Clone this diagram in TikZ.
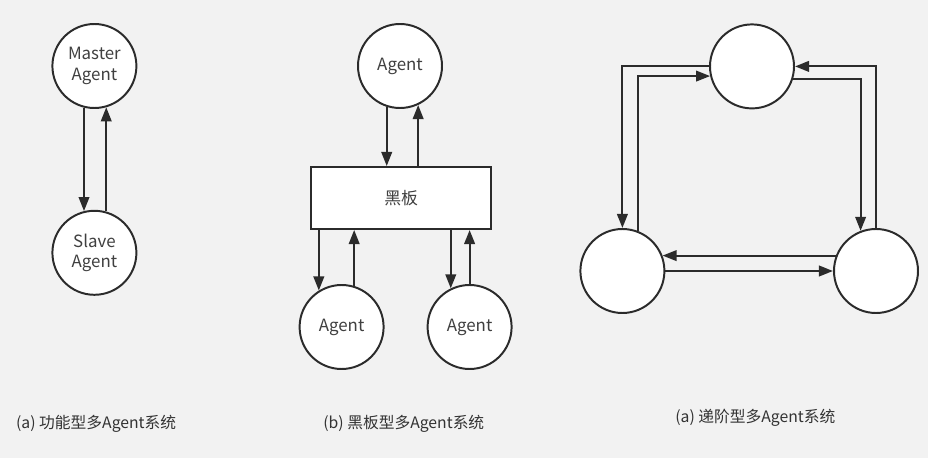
\documentclass[tikz,border=0pt]{standalone}
\usepackage{fontspec}
\setmainfont{Noto Sans CJK SC}
\usetikzlibrary{positioning,arrows.meta}
\usepackage{xcolor}
\definecolor{bgray}{HTML}{F2F2F2}
\definecolor{ink}{HTML}{2B2B2B}

\begin{document}
\begin{tikzpicture}[
      >={Triangle[length=10pt,width=7.5pt]},
      agent/.style={circle,draw=ink,line width=1.4pt,fill=white,minimum size=2.1cm,inner sep=0pt,align=center,font=\fontsize{12}{14.5}\selectfont,text=black!75},
      board/.style={draw=ink,line width=1.4pt,fill=white,minimum width=4.5cm,minimum height=1.55cm,font=\fontsize{12}{14.5}\selectfont,text=black!75},
      flow/.style={->,ink,line width=1.5pt},
      captxt/.style={anchor=west,font=\fontsize{11.2}{13}\selectfont,text=black!80}
    ]
      \fill[bgray] (0,0) rectangle (23.2,11.45);

      % (a) master / slave
      \node[agent] (master) at (2.36,9.80) {Master\\Agent};
      \node[agent] (slave) at (2.36,5.13) {Slave\\Agent};
      \draw[flow] (master.256) -- (slave.104);
      \draw[flow] (slave.74) -- (master.286);

      % (b) blackboard
      \node[agent] (agtop) at (10.0,9.80) {Agent};
      \node[board] (board) at (10.03,6.50) {黑板};
      \node[agent] (agleft) at (8.54,3.275) {Agent};
      \node[agent] (agright) at (11.74,3.275) {Agent};
      \draw[flow] (agtop.252) -- (agtop.252 |- board.north);
      \draw[flow] (agtop.295 |- board.north) -- (agtop.295);
      \draw[flow] (agleft.122 |- board.south) -- (agleft.122);
      \draw[flow] (agleft.73) -- (agleft.73 |- board.south);
      \draw[flow] (agright.116 |- board.south) -- (agright.116);
      \draw[flow] (agright.north) -- (agright.north |- board.south);

      % (c) hierarchy
      \node[agent] (htop) at (18.80,9.79) {};
      \node[agent] (hleft) at (15.56,4.675) {};
      \node[agent] (hright) at (21.90,4.675) {};
      \draw[flow] (htop.west) -| (hleft.north);
      \draw[flow] (hleft.69) |- (htop.193);
      \draw[flow] (htop.-17) -| (hright.111);
      \draw[flow] (hright.north) |- (htop.east);
      \draw[flow] (hright.159) -- (hleft.21);
      \draw[flow] (hleft.east) -- (hright.west);

      \node[captxt] (capa) at (0.28,0.85) {(a) 功能型多Agent系统};
      \node[captxt] (capb) at (7.96,0.85) {(b) 黑板型多Agent系统};
      \node[captxt] (capc) at (16.76,1.0) {(a) 递阶型多Agent系统};
    \end{tikzpicture}
\end{document}
